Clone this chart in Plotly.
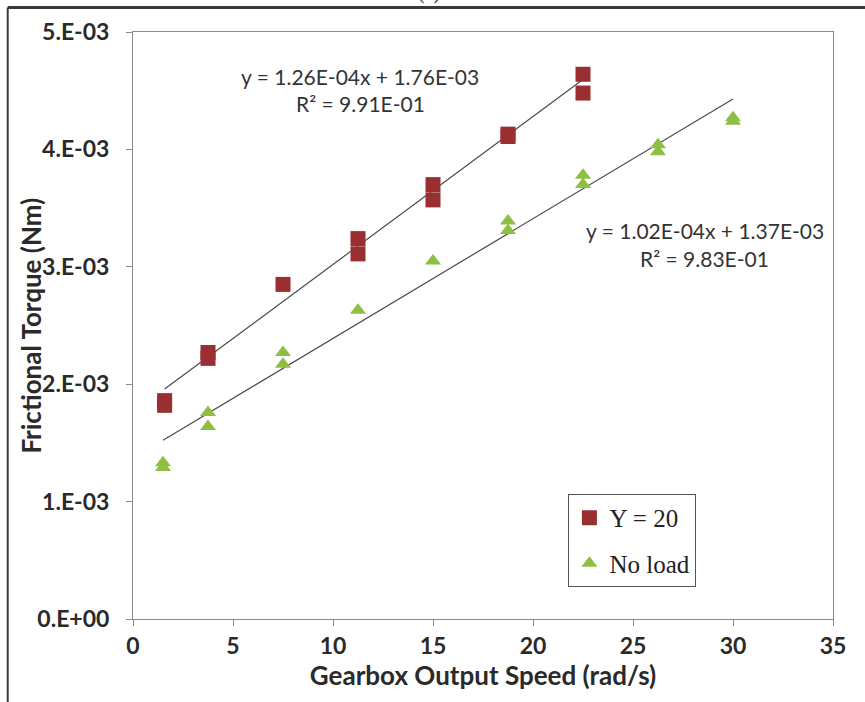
import plotly.graph_objects as go

# Measured frictional torque vs gearbox output speed
speed_loaded = [1.58, 1.58, 3.75, 3.75, 7.5, 11.25, 11.25, 15, 15, 18.75, 18.75, 22.5, 22.5]
torque_loaded = [1.86e-3, 1.82e-3, 2.27e-3, 2.22e-3, 2.85e-3, 3.24e-3, 3.11e-3,
                 3.70e-3, 3.57e-3, 4.13e-3, 4.11e-3, 4.64e-3, 4.48e-3]

speed_noload = [1.5, 1.5, 3.75, 3.75, 7.5, 7.5, 11.25, 15, 18.75, 18.75,
                22.5, 22.5, 26.25, 26.25, 30, 30]
torque_noload = [1.33e-3, 1.29e-3, 1.76e-3, 1.64e-3, 2.27e-3, 2.17e-3, 2.63e-3, 3.05e-3,
                 3.39e-3, 3.31e-3, 3.78e-3, 3.70e-3, 4.04e-3, 3.98e-3, 4.27e-3, 4.24e-3]

# Linear fits (slope, intercept, R^2)
fit_loaded = (1.26e-4, 1.76e-3, 0.991)
fit_noload = (1.02e-4, 1.37e-3, 0.983)

y_tickvals = [0, 1e-3, 2e-3, 3e-3, 4e-3, 5e-3]
y_ticktext = ["0.E+00", "1.E-03", "2.E-03", "3.E-03", "4.E-03", "5.E-03"]
x_tickvals = [0, 5, 10, 15, 20, 25, 30, 35]

RED = "#9A2F31"
GREEN = "#8DBF43"
AXIS_FONT = "Lato, 'Open Sans', sans-serif"
EQ_FONT = "Lato, sans-serif"


def fit_line(xs, fit):
    m, b, _ = fit
    x0, x1 = min(xs), max(xs)
    return [x0, x1], [m * x0 + b, m * x1 + b]


fig = go.Figure()

for xs, fit in ((speed_loaded, fit_loaded), (speed_noload, fit_noload)):
    lx, ly = fit_line(xs, fit)
    fig.add_trace(go.Scatter(x=lx, y=ly, mode="lines",
                             line=dict(color="#4a4a4a", width=1.2),
                             showlegend=False, hoverinfo="skip"))

fig.add_trace(go.Scatter(x=speed_loaded, y=torque_loaded, mode="markers",
                         name="\u03a5 = 20", legendgroup="a",
                         marker=dict(symbol="square", size=15, color=RED)))
fig.add_trace(go.Scatter(x=speed_noload, y=torque_noload, mode="markers",
                         name="No load", legendgroup="b",
                         marker=dict(symbol="triangle-up", size=14, color=GREEN)))


def eq_text(fit):
    m, b, r2 = fit
    return f"y = {m:.2E}x + {b:.2E}", f"R\u00b2 = {r2:.2E}"


eq_font = dict(family=EQ_FONT, size=21, color="#333333")
for fit, (ex, ey1, ey2) in ((fit_loaded, (11.35, 4.625e-3, 4.395e-3)),
                           (fit_noload, (28.58, 3.313e-3, 3.075e-3))):
    line1, line2 = eq_text(fit)
    fig.add_annotation(x=ex, y=ey1, text=line1, showarrow=False, font=eq_font,
                       xanchor="center", yanchor="middle")
    fig.add_annotation(x=ex, y=ey2, text=line2, showarrow=False, font=eq_font,
                       xanchor="center", yanchor="middle")

# Panel caption, partially above the page edge
fig.add_annotation(xref="paper", yref="paper", x=0.423, y=1.0443, yanchor="bottom", text="(a)",
                   showarrow=False, font=dict(family="Liberation Serif", size=20, color="#333"))

# Vertical axis title, placed beside the tick labels
fig.add_annotation(xref="paper", yref="paper", x=-0.147, y=0.5, textangle=-90,
                   text="Frictional Torque (Nm)", showarrow=False,
                   xanchor="center", yanchor="middle",
                   font=dict(family=AXIS_FONT, size=26, color="#2a2a2a", weight="bold"))

# Outer frame around the chart
fig.add_shape(type="line", xref="paper", yref="paper", x0=-0.179, x1=1.05, y0=1.0417, y1=1.0417,
              line=dict(color="#3a3a3a", width=3))
fig.add_shape(type="line", xref="paper", yref="paper", x0=-0.179, x1=-0.179, y0=1.0417, y1=-0.15,
              line=dict(color="#3a3a3a", width=2))

axis_common = dict(showgrid=False, zeroline=False, showline=True, linecolor="#8c8c8c",
                   linewidth=1, mirror=True, ticks="outside", ticklen=6, tickcolor="#8c8c8c",
                   tickfont=dict(family=AXIS_FONT, size=23, color="#2a2a2a", weight="bold"))

fig.update_xaxes(range=[0, 35], tickvals=x_tickvals, ticklabelstandoff=0,
                 title=dict(text="Gearbox Output Speed (rad/s)", standoff=8,
                            font=dict(family=AXIS_FONT, size=26, color="#2a2a2a", weight="bold")),
                 **axis_common)
fig.update_yaxes(range=[0, 5e-3], tickvals=y_tickvals, ticktext=y_ticktext, ticklabelstandoff=12,
                 **axis_common)

fig.update_layout(
    width=865, height=702,
    margin=dict(l=133, r=32, t=32, b=83),
    plot_bgcolor="white", paper_bgcolor="white",
    legend=dict(x=0.622, y=0.213, xanchor="left", yanchor="top",
                bordercolor="#555555", borderwidth=1, bgcolor="white",
                font=dict(family="Liberation Serif", size=25, color="#222"),
                traceorder="grouped", tracegroupgap=10, itemwidth=30),
    showlegend=True,
)

fig.write_html("out.html")
